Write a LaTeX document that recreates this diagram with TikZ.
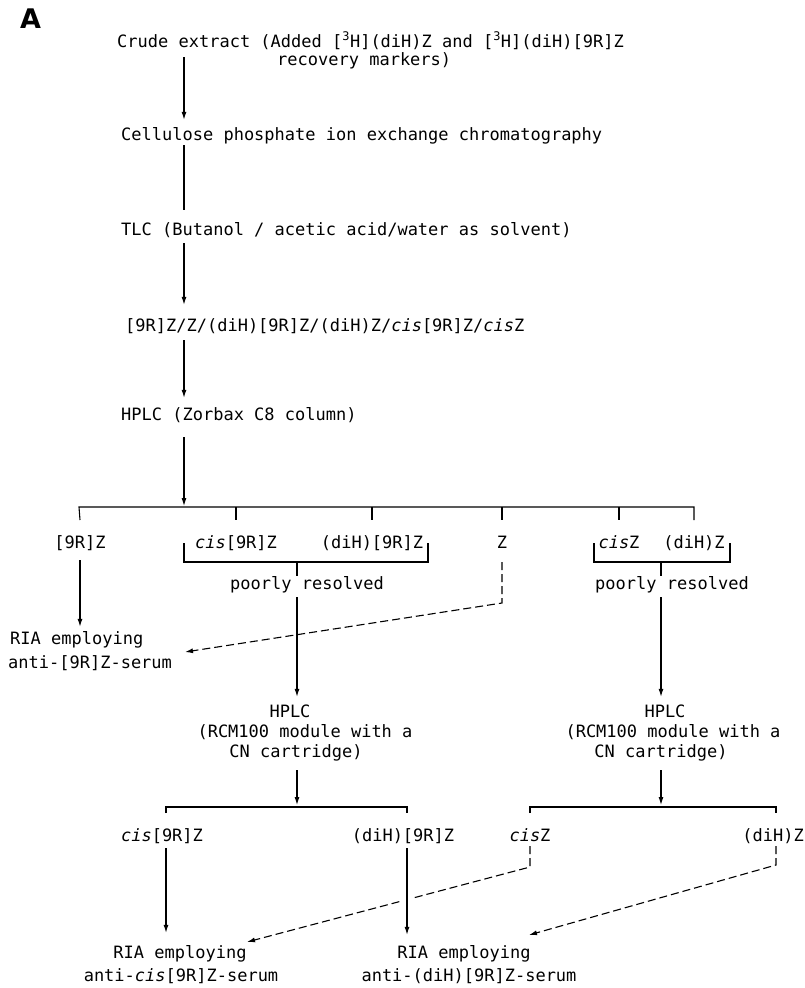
\documentclass[tikz,border=0pt]{standalone}
\usepackage{fontspec}
\setmainfont{DejaVu Sans Mono}
\newfontfamily\labelfont{DejaVu Sans}
\usetikzlibrary{arrows.meta}
\newcommand\figfont{\fontsize{17}{20}\selectfont}
\begin{document}
\begin{tikzpicture}[x=1pt,y=-1pt,
  txt/.style={inner sep=0pt, font=\figfont, text height=13pt, text depth=4pt},
  ln/.style={line width=1.1pt},
  arr/.style={ln, -{Latex[length=8pt,width=5pt]}},
  darr/.style={arr, dash pattern=on 8pt off 4pt},
  halo/.style={white, line width=14pt}
]
\useasboundingbox (0,0) rectangle (805,988);

% text nodes
\node[inner sep=0pt, anchor=base west, font=\labelfont\fontsize{27}{27}\selectfont\bfseries] (A) at (20,28) {A};
\node[txt, anchor=base west] (crude) at (117,47) {Crude extract (Added [\textsuperscript{3}H](diH)Z and [\textsuperscript{3}H](diH)[9R]Z};
\node[txt, anchor=base west] (recov) at (277,65) {recovery markers)};
\node[txt, anchor=base west] (cell) at (121,140) {Cellulose phosphate ion exchange chromatography};
\node[txt, anchor=base west] (tlc) at (121,235) {TLC (Butanol / acetic acid/water as solvent)};
\node[txt, anchor=base west] (mix) at (125,331) {[9R]Z/Z/(diH)[9R]Z/(diH)Z/\textit{cis}[9R]Z/\textit{cis}Z};
\node[txt, anchor=base west] (hplc) at (121,420) {HPLC (Zorbax C8 column)};

\node[txt, anchor=base] (r9) at (80,548) {[9R]Z};
\node[txt, anchor=base] (cis9) at (236,548) {\textit{cis}[9R]Z};
\node[txt, anchor=base] (dih9) at (372,548) {(diH)[9R]Z};
\node[txt, anchor=base] (z) at (502,548) {Z};
\node[txt, anchor=base] (cisz) at (619,548) {\textit{cis}Z};
\node[txt, anchor=base] (dihz) at (694,548) {(diH)Z};

\node[txt, anchor=base] (pr1) at (307,589) {poorly resolved};
\node[txt, anchor=base] (pr2) at (672,589) {poorly resolved};

\node[txt, anchor=base west] (ria1a) at (10,644) {RIA employing};
\node[txt, anchor=base west] (ria1b) at (8,668) {anti-[9R]Z-serum};

\node[txt, anchor=base] (h2a) at (290,717) {HPLC};
\node[txt, anchor=base] (h2b) at (305,737) {(RCM100 module with a};
\node[txt, anchor=base] (h2c) at (296,757) {CN cartridge)};
\node[txt, anchor=base] (h3a) at (665,717) {HPLC};
\node[txt, anchor=base] (h3b) at (673,737) {(RCM100 module with a};
\node[txt, anchor=base] (h3c) at (661,757) {CN cartridge)};

\node[txt, anchor=base] (cis9b) at (162,841) {\textit{cis}[9R]Z};
\node[txt, anchor=base] (dih9b) at (403,841) {(diH)[9R]Z};
\node[txt, anchor=base] (ciszb) at (530,841) {\textit{cis}Z};
\node[txt, anchor=base east] (dihzb) at (804,841) {(diH)Z};

\node[txt, anchor=base] (ria2a) at (180,958) {RIA employing};
\node[txt, anchor=base] (ria2b) at (181,981) {anti-\textit{cis}[9R]Z-serum};
\node[txt, anchor=base] (ria3a) at (464,958) {RIA employing};
\node[txt, anchor=base] (ria3b) at (469,981) {anti-(diH)[9R]Z-serum};

% coordinates
\coordinate (sp) at (184,0);
\coordinate (b1L) at (79,507);
\coordinate (b1R) at (694,507);
\coordinate (c1) at (297,0);
\coordinate (c2) at (661,0);
\coordinate (t1) at (185,652);
\coordinate (t2) at (247,942);
\coordinate (t3) at (529,935);

% main spine
\draw[arr, shorten <=6pt, shorten >=7pt] (sp |- crude.south) -- (sp |- cell.north);
\draw[ln, shorten <=1pt, shorten >=12pt] (sp |- cell.south) -- (sp |- tlc.north);
\draw[arr, shorten <=4pt, shorten >=13pt] (sp |- tlc.south) -- (sp |- mix.north);
\draw[arr, shorten <=5pt, shorten >=9pt] (sp |- mix.south) -- (sp |- hplc.north);
\draw[arr, shorten <=13pt, shorten >=1pt] (sp |- hplc.south) -- (sp |- b1L);

% first bracket
\draw[ln] (r9.north |- 0,520) -- (b1L) -- (b1R) -- (dihz.north |- 0,520);
\foreach \n in {cis9,dih9,z,cisz}{\draw[ln] (\n.north |- b1L) -- (\n.north |- 0,520);}

% sub brackets
\draw[ln] (184,543) -- (184,562) -- (428,562) -- (428,543);
\draw[ln] (c1 |- 0,562) -- (c1 |- pr1.north);
\draw[ln] (594,543) -- (594,562) -- (730,562) -- (730,543);
\draw[ln] (c2 |- 0,562) -- (c2 |- pr2.north);

% left branch
\draw[arr, shorten <=8pt, shorten >=4pt] (r9.south) -- (r9.south |- ria1a.north);
\draw[darr, shorten <=10pt] (z.south) -- (z.south |- 0,603) -- (t1);

% HPLC branches
\draw[arr, shorten <=4pt, shorten >=7pt] (c1 |- pr1.south) -- (c1 |- h2a.north);
\draw[arr, shorten <=4pt, shorten >=7pt] (c2 |- pr2.south) -- (c2 |- h3a.north);
\draw[arr, shorten <=9pt, shorten >=2pt] (c1 |- h2c.south) -- (c1 |- 0,807);
\draw[arr, shorten <=9pt, shorten >=2pt] (c2 |- h3c.south) -- (c2 |- 0,807);

% lower brackets
\draw[ln] (166,813) -- (166,807) -- (407,807) -- (407,813);
\draw[ln] (530,813) -- (530,807) -- (776,807) -- (776,813);

% lower arrows
\draw[darr, shorten <=1pt] (ciszb.south) -- (ciszb.south |- 0,867) -- (t2);
\draw[darr, shorten <=1pt] (776,0 |- dihzb.south) -- (776,865) -- (t3);
\draw[arr, shorten <=3pt, shorten >=12pt] (166,0 |- cis9b.south) -- (166,0 |- ria2a.north);
\draw[halo] (407,890) -- (407,910);
\draw[arr, shorten <=3pt, shorten >=10pt] (407,0 |- dih9b.south) -- (407,0 |- ria3a.north);
\end{tikzpicture}
\end{document}
